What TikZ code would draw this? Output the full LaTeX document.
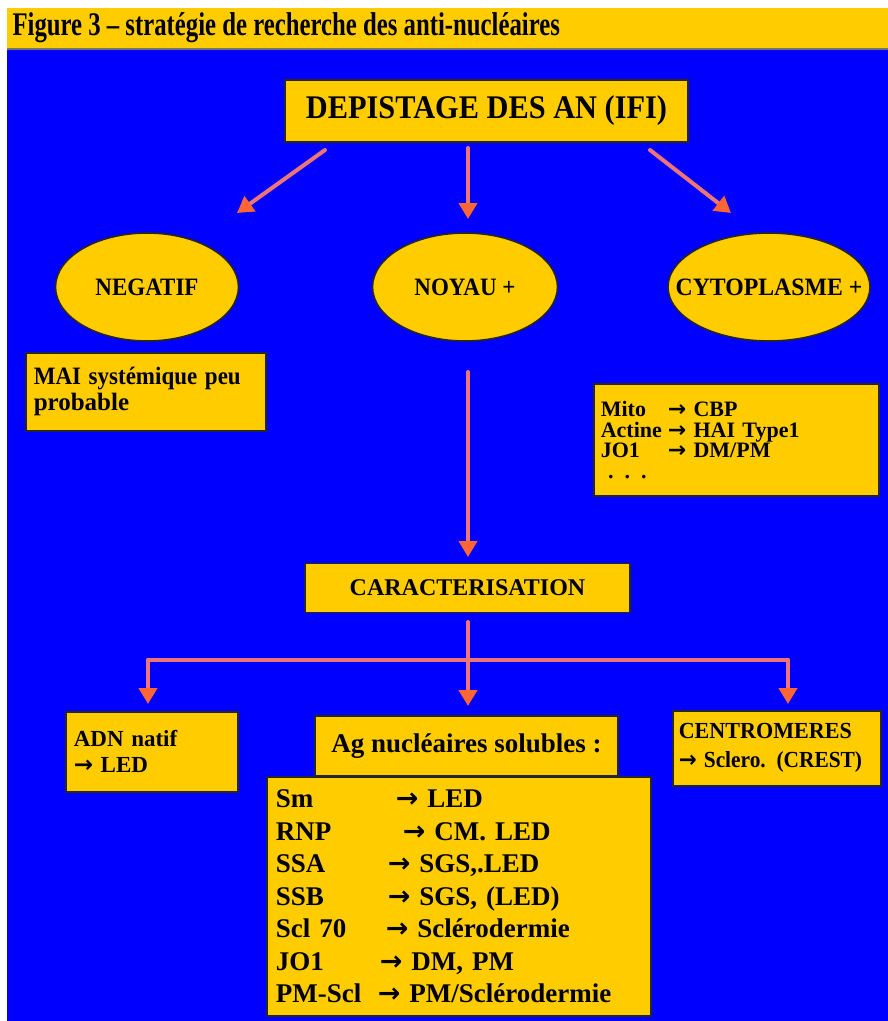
\documentclass[tikz,border=0pt]{standalone}
\usepackage{fontspec}
\setmainfont{Liberation Serif}
\newfontfamily\arrowfont{DejaVu Sans}
\usepackage{tkz-euclide}
\usetikzlibrary{arrows.meta,shapes.geometric}
\definecolor{fond}{RGB}{0,0,255}
\definecolor{jaune}{RGB}{255,204,0}
\definecolor{trait}{RGB}{236,118,118}
\definecolor{pointe}{RGB}{255,102,51}
\newcommand\fleche{{\arrowfont\bfseries\char"2192}}
\newcommand\taille[2]{\fontsize{#1}{#2}\selectfont}
\tikzset{
  boite/.style={draw=black!85,line width=1.6pt,fill=jaune,inner sep=0pt,font=\bfseries},
  bulle/.style={ellipse,draw=black!85,line width=1.6pt,fill=jaune,inner sep=0pt,
    minimum height=108pt,font=\bfseries\taille{25}{25}},
  lien/.style={trait,line width=4pt},
  fl/.style={lien,-{Triangle[length=16pt,width=18pt,color=pointe]}}
}

\begin{document}
\begin{tikzpicture}[x=1pt,y=-1pt]
\useasboundingbox (0,0) rectangle (888,1021);
\fill[jaune] (7,8) rectangle (888,48);
\fill[fond] (7,48) rectangle (888,1021);
\draw[black!55,line width=2pt] (7,49) -- (888,49);
\node[anchor=west,font=\bfseries\taille{33}{33}] (titre) at (9,28)
  {\scalebox{0.75}[1]{Figure 3 – stratégie de recherche des anti-nucléaires}};
\node[boite,minimum width=403pt,minimum height=62pt,font=\bfseries\taille{33}{33}] (depistage)
  at (486.5,111) {\scalebox{0.92}[1]{DEPISTAGE DES AN (IFI)}};
\node[bulle,minimum width=183pt] (negatif) at (147,287) {\makebox[0pt]{\scalebox{0.92}[1]{NEGATIF}}};
\node[bulle,minimum width=185pt] (noyau) at (465,287) {\makebox[0pt]{\scalebox{0.92}[1]{NOYAU +}}};
\node[bulle,minimum width=202pt] (cyto) at (769,287) {\makebox[0pt]{\scalebox{0.95}[1]{CYTOPLASME +}}};
\node[boite,anchor=north west,minimum width=240pt,minimum height=78pt,text width=224pt,
  inner xsep=8pt,align=left,font=\bfseries\taille{25}{26}] (mai) at (25,352)
  {\scalebox{0.92}[1]{MAI systémique peu}\\probable};
\node[boite,anchor=north west,minimum width=285pt,minimum height=112pt,text width=271pt,
  inner xsep=7pt,align=left,font=\bfseries\taille{22}{20.5}] (cytoliste) at (593,383)
  {\makebox[67pt][l]{Mito}\fleche{} CBP\\
   \makebox[67pt][l]{Actine}\fleche{} HAI Type1\\
   \makebox[67pt][l]{JO1}\fleche{} DM/PM\\
   \ . . .};
\node[boite,minimum width=325pt,minimum height=49pt,font=\bfseries\taille{24}{24}] (carac)
  at (467.5,588) {CARACTERISATION};
\node[boite,anchor=north west,minimum width=172pt,minimum height=80pt,text width=156pt,
  inner xsep=8pt,align=left,font=\bfseries\taille{23}{26}] (adn) at (65,711)
  {ADN natif\\\fleche{} LED};
\node[boite,minimum width=303pt,minimum height=60pt,font=\bfseries\taille{27}{27}] (agsol)
  at (466.5,746) {Ag nucléaires solubles :};
\node[boite,anchor=north west,minimum width=384pt,minimum height=239pt,text width=366pt,
  inner xsep=9pt,align=left,font=\bfseries\taille{27}{32.5}] (agliste) at (266,776)
  {\makebox[120pt][l]{Sm}\fleche{} LED\\
   \makebox[127pt][l]{RNP}\fleche{} CM. LED\\
   \makebox[112pt][l]{SSA}\fleche{} SGS,.LED\\
   \makebox[112pt][l]{SSB}\fleche{} SGS, (LED)\\
   \makebox[110pt][l]{Scl 70}\fleche{} Sclérodermie\\
   \makebox[104pt][l]{JO1}\fleche{} DM, PM\\
   \makebox[102pt][l]{PM-Scl}\fleche{} PM/Sclérodermie};
\node[boite,anchor=north west,minimum width=208pt,minimum height=75pt,text width=196pt,
  inner xsep=6pt,align=left,font=\bfseries\taille{23}{29}] (centro) at (672,710)
  {\scalebox{0.96}[1]{CENTROMERES}\\\scalebox{0.93}[1]{\fleche{} Sclero. (CREST)}};
\tkzDefPoint(325,150){d1}
\tkzDefPoint(237,213){d2}
\tkzDefPoint(468,148){d3}
\tkzDefPoint(468,219){d4}
\tkzDefPoint(650,150){d5}
\tkzDefPoint(731,213){d6}
\tkzDefPoint(468,372){n1}
\tkzDefPoint(468,557){n2}
\tkzDefPoint(468,622){c1}
\tkzDefPoint(468,706){c2}
\tkzDefPoint(148,660){g1}
\tkzDefPoint(148,704){g2}
\tkzDefPoint(788,660){r1}
\tkzDefPoint(788,704){r2}
\tkzDrawSegment[fl](d1,d2)
\tkzDrawSegment[fl](d3,d4)
\tkzDrawSegment[fl](d5,d6)
\tkzDrawSegment[fl](n1,n2)
\tkzDrawSegment[lien](g1,r1)
\tkzDrawSegment[fl](c1,c2)
\tkzDrawSegment[fl](g1,g2)
\tkzDrawSegment[fl](r1,r2)
\end{tikzpicture}
\end{document}
